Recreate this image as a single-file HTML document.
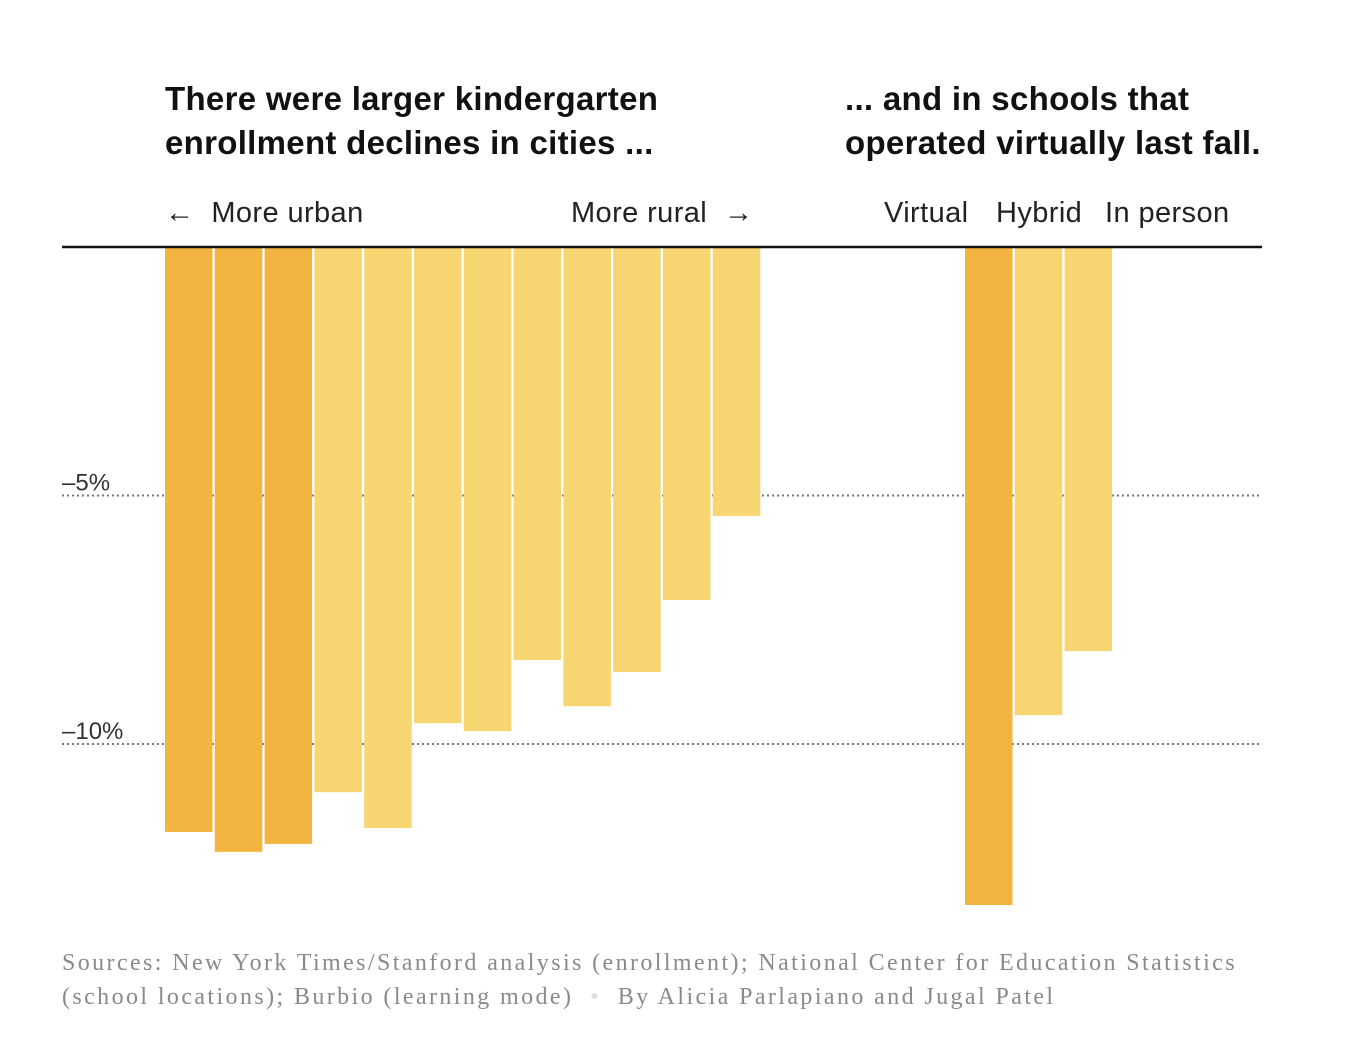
<!DOCTYPE html>
<html><head><meta charset="utf-8"><style>
body{margin:0;background:#fff;width:1370px;height:1038px;overflow:hidden;position:relative;font-family:"Liberation Sans",sans-serif}
.t{position:absolute;font-weight:bold;font-size:33px;line-height:44px;letter-spacing:0.3px;color:#111}
.l{position:absolute;font-size:29px;letter-spacing:0.4px;color:#222;top:197px}
.f{position:absolute;left:62px;top:946px;font-family:"Liberation Serif",serif;font-size:24px;line-height:34px;letter-spacing:2.4px;color:#8a8a8a;white-space:nowrap}
</style></head><body>
<div class="t" style="left:165px;top:77px">There were larger kindergarten<br>enrollment declines in cities ...</div>
<div class="t" style="left:845px;top:77px">... and in schools that<br>operated virtually last fall.</div>
<div class="l" style="left:165px">←&nbsp; More urban</div>
<div class="l" style="left:571px">More rural &nbsp;→</div>
<div class="l" style="left:884px">Virtual</div>
<div class="l" style="left:996px">Hybrid</div>
<div class="l" style="left:1105px">In person</div>
<svg id="c" width="1370" height="1038" style="position:absolute;left:0;top:0"></svg>
<div class="f">Sources: New York Times/Stanford analysis (enrollment); National Center for Education Statistics<br>(school locations); Burbio (learning mode) &nbsp;<span style="color:#ddd">•</span>&nbsp; By Alicia Parlapiano and Jugal Patel</div>
<script>
const urbanValues=[-11.77,-12.17,-12.01,-10.97,-11.69,-9.58,-9.74,-8.31,-9.24,-8.55,-7.10,-5.41];
const urbanHighlight=[1,1,1,0,0,0,0,0,0,0,0,0];
const modeValues=[-13.24,-9.42,-8.13];
const modeHighlight=[1,0,0];
const tickValues=[-5,-10];
const tickLabels=["–5%","–10%"];
const svg=document.getElementById('c');const NS='http://www.w3.org/2000/svg';
const y=v=>247+(-v)*49.7;
function mk(t,a){const e=document.createElementNS(NS,t);for(const k in a)e.setAttribute(k,a[k]);svg.appendChild(e);return e;}
tickValues.forEach((v,i)=>{
 const ln=mk('line',{x1:62,x2:1262,y1:y(v),y2:y(v),stroke:'#777','stroke-width':2,'stroke-dasharray':'2,3'});
 
 
 const tx=mk('text',{x:62,y:y(v)-5,'font-size':24,fill:'#333','font-family':'Liberation Sans, sans-serif'});
 tx.textContent=tickLabels[i];
 
 
});
function bars(vals,hi,x0,name){vals.forEach((v,i)=>{
 const r=mk('rect',{x:x0+i*49.8,y:y(0),width:47.5,height:y(v)-y(0),fill:hi[i]?'#f3b53f':'#f7d570'});
 
 
});}
bars(urbanValues,urbanHighlight,165,'urbanicity');
bars(modeValues,modeHighlight,965,'learning-mode');
const base=mk('line',{x1:62,x2:1262,y1:247,y2:247,stroke:'#111','stroke-width':2.5});


</script>
</body></html>
